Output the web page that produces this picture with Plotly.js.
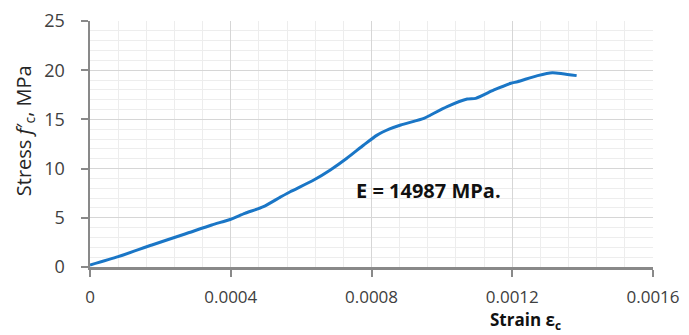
<!DOCTYPE html>
<html>
<head>
<meta charset="utf-8">
<script src="https://cdn.plot.ly/plotly-3.0.1.min.js"></script>
<style>html,body{margin:0;padding:0;background:#fff;}#chart{width:689px;height:335px;}</style>
</head>
<body>
<div id="chart"></div>
<script>
const strain = [0, 0.00008, 0.000176, 0.00027, 0.000346, 0.0004, 0.00044, 0.000493, 0.000541, 0.000569, 0.000636, 0.000683, 0.00073, 0.000778, 0.000816, 0.00085, 0.000883, 0.000949, 0.000968, 0.001015, 0.001072, 0.001096, 0.001148, 0.001196, 0.001215, 0.001272, 0.001314, 0.001343, 0.001383];
const stress = [0.2, 1.05, 2.24, 3.35, 4.27, 4.85, 5.45, 6.13, 7.1, 7.65, 8.84, 9.86, 11.05, 12.4, 13.4, 14.0, 14.43, 15.1, 15.45, 16.3, 17.07, 17.14, 17.99, 18.67, 18.83, 19.45, 19.75, 19.65, 19.45];
const xTickVals = [0, 0.0004, 0.0008, 0.0012, 0.0016];
const xTickText = ["0", "0.0004", "0.0008", "0.0012", "0.0016"];
const yTickVals = [0, 5, 10, 15, 20, 25];
const yTickText = ["0", "5", "10", "15", "20", "25"];
const modulusLabel = "E = 14987 MPa.";
const modulusPos = [0.000962, 7.8];

const tickFont = {family: "Open Sans, sans-serif", size: 18, color: "#404040"};
const xTickFont = {family: "Open Sans, sans-serif", size: 17, color: "#404040"};

const trace = {
  x: strain, y: stress, type: "scatter", mode: "lines",
  line: {color: "#1a76c6", width: 3, shape: "spline", smoothing: 0.6}, hoverinfo: "skip"
};

const layout = {
  width: 689, height: 335,
  margin: {l: 90, r: 36, t: 21, b: 68},
  paper_bgcolor: "#fff", plot_bgcolor: "#fff",
  showlegend: false,
  xaxis: {
    range: [0, 0.0016], tickmode: "array", tickvals: xTickVals, ticktext: xTickText,
    showline: true, linecolor: "#898989", linewidth: 2.5,
    ticks: "outside", ticklen: 7, tickwidth: 2, tickcolor: "#898989",
    showgrid: true, gridcolor: "#d6d6d6", gridwidth: 1,
    zeroline: false, tickfont: xTickFont, ticklabelstandoff: 6,
    minor: {tickmode: "linear", tick0: 0, dtick: 0.00008, showgrid: true, gridcolor: "#ededed", gridwidth: 1, ticks: ""}
  },
  yaxis: {
    range: [0, 25], tickmode: "array", tickvals: yTickVals, ticktext: yTickText,
    showline: true, linecolor: "#898989", linewidth: 2.5,
    ticks: "outside", ticklen: 7, tickwidth: 2, tickcolor: "#898989",
    showgrid: true, gridcolor: "#d6d6d6", gridwidth: 1,
    zeroline: false, tickfont: tickFont, ticklabelstandoff: 12,
    minor: {tickmode: "linear", tick0: 0, dtick: 1, showgrid: true, gridcolor: "#ededed", gridwidth: 1, ticks: ""}
  },
  annotations: [
    {x: modulusPos[0], y: modulusPos[1], xref: "x", yref: "y", text: "<b>" + modulusLabel + "</b>",
     showarrow: false, font: {family: "Open Sans, sans-serif", size: 20, color: "#111"}, xanchor: "center", yanchor: "middle"},
    {x: -0.115, y: 0.553, xref: "paper", yref: "paper", textangle: -90,
     text: "Stress <i>f</i>′<sub>c</sub>, MPa", showarrow: false,
     font: {family: "Open Sans, sans-serif", size: 20, color: "#262626"}, xanchor: "center", yanchor: "middle"},
    {x: 0.773, y: -0.274, xref: "paper", yref: "paper",
     text: "<b>Strain ε<sub>c</sub></b>", showarrow: false, borderpad: 0,
     font: {family: "Open Sans, sans-serif", size: 17, color: "#111"}, xanchor: "center", yanchor: "bottom"}
  ]
};

Plotly.newPlot("chart", [trace], layout, {displayModeBar: false, staticPlot: true});
</script>
</body>
</html>
